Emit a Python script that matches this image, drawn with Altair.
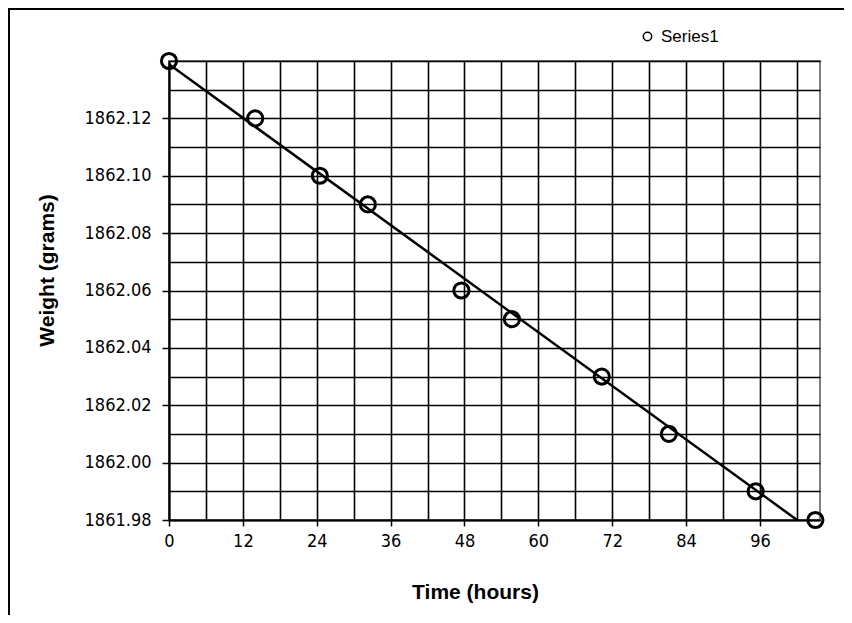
import altair as alt
import pandas as pd

# Data
time_hours = [0, 14, 24.5, 32.3, 47.5, 55.7, 70.3, 81.2, 95.3, 105]
weight_grams = [1862.14, 1862.12, 1862.10, 1862.09, 1862.06, 1862.05, 1862.03, 1862.01, 1861.99, 1861.98]
series_name = ["Series1"] * len(time_hours)

x_grid = [0, 6, 12, 18, 24, 30, 36, 42, 48, 54, 60, 66, 72, 78, 84, 90, 96, 102]
x_labels = [0, 12, 24, 36, 48, 60, 72, 84, 96]
y_grid = [1861.98, 1861.99, 1862.00, 1862.01, 1862.02, 1862.03, 1862.04, 1862.05,
          1862.06, 1862.07, 1862.08, 1862.09, 1862.10, 1862.11, 1862.12, 1862.13, 1862.14]
y_labels = [1861.98, 1862.00, 1862.02, 1862.04, 1862.06, 1862.08, 1862.10, 1862.12]

df = pd.DataFrame({"time": time_hours, "weight": weight_grams, "series": series_name})

LABEL_FONT = "DejaVu Sans Condensed, Liberation Sans Narrow, Arial Narrow, Liberation Sans"
TITLE_FONT = "Liberation Sans"

x_scale = alt.Scale(domain=[0, 105.75], nice=False, zero=False)
y_scale = alt.Scale(domain=[1861.98, 1862.14], nice=False, zero=False)

# Axes carrying labels and ticks (no grid)
x_axis = alt.Axis(
    values=x_labels, orient="bottom", grid=False,
    domainColor="black", domainWidth=2,
    tickColor="black", tickWidth=1.5, tickSize=6,
    labelFont=LABEL_FONT, labelFontSize=18, labelColor="black", labelPadding=6,
    labelFlush=False, labelOverlap=False,
    title="Time (hours)", titleFont=TITLE_FONT, titleFontSize=21, titleFontWeight="bold",
    titleColor="black", titleX=306, titleY=72, titleAlign="center",
    titleBaseline="middle",
)
y_axis = alt.Axis(
    values=y_labels, orient="left", format=".2f", grid=False,
    domainColor="black", domainWidth=2,
    tickColor="black", tickWidth=1.5, tickSize=7,
    labelFont=LABEL_FONT, labelFontSize=18, labelColor="black", labelPadding=11,
    labelFlush=False, labelOverlap=False,
    title="Weight (grams)", titleFont=TITLE_FONT, titleFontSize=21, titleFontWeight="bold",
    titleColor="black", titleX=-122, titleY=209, titleAngle=270, titleAlign="center",
    titleBaseline="middle",
)

# Grid-only axes
x_grid_axis = alt.Axis(
    values=x_grid, orient="bottom", grid=True, gridColor="black", gridWidth=1.6, gridOpacity=1,
    labels=False, ticks=False, domain=False, title=None,
)
y_grid_axis = alt.Axis(
    values=y_grid, orient="left", grid=True, gridColor="black", gridWidth=1.6, gridOpacity=1,
    labels=False, ticks=False, domain=False, title=None,
)

base = alt.Chart(df)

trend = base.transform_regression("time", "weight").mark_line(
    color="black", strokeWidth=2.5, clip=True
).encode(
    x=alt.X("time:Q", scale=x_scale, axis=x_grid_axis),
    y=alt.Y("weight:Q", scale=y_scale, axis=y_grid_axis),
)

points = base.mark_point(
    shape="circle", filled=False, size=230, strokeWidth=3, opacity=1, clip=False
).encode(
    x=alt.X("time:Q", scale=x_scale, axis=x_axis),
    y=alt.Y("weight:Q", scale=y_scale, axis=y_axis),
    color=alt.Color(
        "series:N",
        scale=alt.Scale(range=["black"]),
        legend=alt.Legend(
            title=None, orient="none", legendX=470, legendY=-33,
            symbolType="circle", symbolSize=70, symbolStrokeWidth=1.5,
            symbolFillColor="white", symbolStrokeColor="black",
            labelFont=TITLE_FONT, labelFontSize=17, labelColor="black", labelOffset=5,
        ),
    ),
)

frame = alt.Chart(alt.Data(values=[{"f": 1}])).mark_rect(
    fillOpacity=0, stroke="black", strokeWidth=2
).encode(
    x=alt.value(-160), x2=alt.value(720), y=alt.value(-52), y2=alt.value(620)
)

chart = alt.layer(trend, points, frame).resolve_axis(
    x="independent", y="independent"
).properties(
    width=651, height=459,
    autosize=alt.AutoSizeParams(type="none"),
    padding={"left": 161, "top": 53, "right": 24, "bottom": 95},
).configure_view(
    stroke="#808080", strokeWidth=2
)

chart.save("out.html", embed_options={"renderer": "svg", "actions": False})
